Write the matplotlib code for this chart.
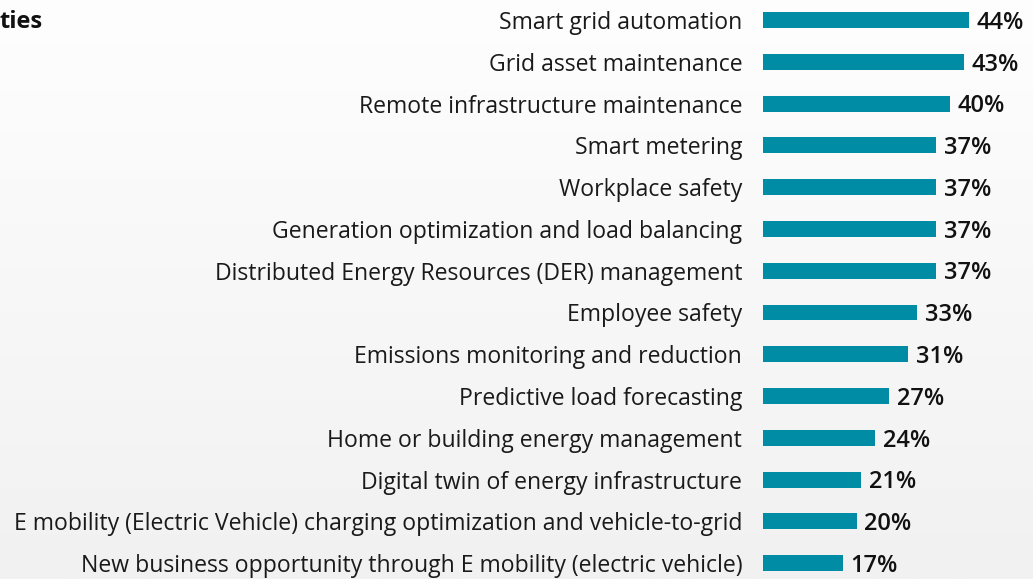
import numpy as np
import matplotlib
matplotlib.use("Agg")
import matplotlib.pyplot as plt
from matplotlib.colors import LinearSegmentedColormap

plt.rcParams['font.family'] = ['Open Sans', 'DejaVu Sans']

categories = [
    "Smart grid automation",
    "Grid asset maintenance",
    "Remote infrastructure maintenance",
    "Smart metering",
    "Workplace safety",
    "Generation optimization and load balancing",
    "Distributed Energy Resources (DER) management",
    "Employee safety",
    "Emissions monitoring and reduction",
    "Predictive load forecasting",
    "Home or building energy management",
    "Digital twin of energy infrastructure",
    "E mobility (Electric Vehicle) charging optimization and vehicle-to-grid",
    "New business opportunity through E mobility (electric vehicle)",
]
values = [44, 43, 40, 37, 37, 37, 37, 33, 31, 27, 24, 21, 20, 17]

BAR = "#008ca5"

fig = plt.figure(figsize=(10.33, 5.79), dpi=100)

# soft vertical background gradient
bg = fig.add_axes([0, 0, 1, 1], zorder=-10)
grad = np.linspace(0, 1, 256).reshape(-1, 1)
cmap = LinearSegmentedColormap.from_list("bg", ["#fefefe", "#f1f1f1"])
bg.imshow(grad, aspect="auto", cmap=cmap, extent=[0, 1, 0, 1], origin="upper")
bg.axis("off")

ax = fig.add_axes([0.7386, 0, 0.2614, 1])
ax.patch.set_alpha(0)
y = np.arange(len(categories))
bars = ax.barh(y, values, height=0.38, color=BAR)
ax.set_xlim(0, 57.7)
ax.set_ylim(13.38, -0.479)
ax.set_yticks(y)
ax.set_yticklabels(categories, fontsize=16.6, color="#1a1a1a")
ax.tick_params(axis="y", length=0, pad=15)
ax.set_xticks([])
for s in ax.spines.values():
    s.set_visible(False)

for b, v in zip(bars, values):
    ax.annotate(f"{v}%", (b.get_width(), b.get_y() + b.get_height() / 2),
                xytext=(5.5, -2), textcoords="offset points", ha="left", va="center",
                fontsize=17, fontweight="semibold", color="#111111")

fig.text(0.0, 0.962, "ties", fontsize=17, fontweight="bold", color="#111111",
         ha="left", va="center")

fig.savefig("out.png", dpi=100)
